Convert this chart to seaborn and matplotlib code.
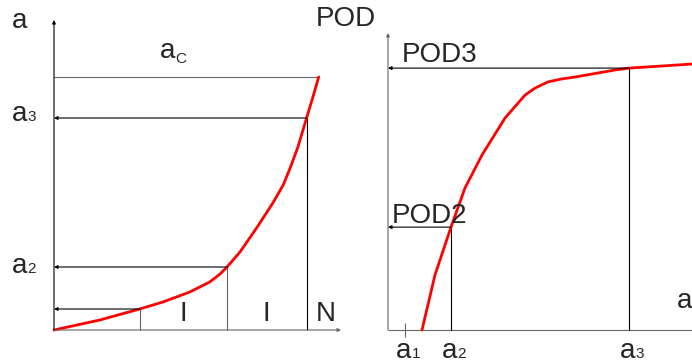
import matplotlib
matplotlib.use("Agg")
import matplotlib.pyplot as plt
import seaborn as sns

# --- dados (esquema: crescimento de trinca e curva POD) ---
# painel esquerdo: a x N
n_curve = [0, 0.53, 0.99, 1.26, 1.57, 1.80, 1.92, 2.00, 2.15, 2.35, 2.53,
           2.65, 2.73, 2.82, 2.92, 2.99, 3.06]
a_curve = [0, 0.10, 0.21, 0.28, 0.38, 0.48, 0.56, 0.63, 0.78, 1.03, 1.27,
           1.45, 1.62, 1.83, 2.12, 2.32, 2.53]
n_marks = [0.99, 2.00, 2.92]          # intervalos de inspecao I, I, N
a_marks = [0.21, 0.63, 2.12]          # a1, a2, a3
a_crit = 2.53
n_crit = 3.06
interval_labels = ["I", "I", "N"]

# painel direito: POD x a
a_pod = [0.34, 0.47, 0.63, 0.77, 0.94, 1.17, 1.37, 1.47, 1.60, 1.74, 1.87,
         2.27, 2.41, 3.04]
pod_curve = [0, 0.204, 0.381, 0.526, 0.648, 0.785, 0.870, 0.896, 0.919,
             0.930, 0.937, 0.963, 0.970, 0.985]
a_ticks = [0.17, 0.63, 2.41]          # a1, a2, a3
pod_marks = {"POD2": 0.381, "POD3": 0.970}

GRAY = "#666666"
W, H = 692, 363

sns.set_style("white")
plt.rcParams["font.family"] = ["Liberation Sans", "DejaVu Sans"]

fig = plt.figure(figsize=(W / 100, H / 100), dpi=100)
ax1 = fig.add_axes([54 / W, 33 / H, 291 / W, 310 / H])
ax2 = fig.add_axes([388 / W, 33 / H, 304 / W, 297 / H])
for ax in (ax1, ax2):
    ax.set_axis_off()
ax1.set_xlim(0, 291 / 86.5)
ax1.set_ylim(0, 3.1)
ax2.set_xlim(0, 3.04)
ax2.set_ylim(0, 1.1)


def arrow(ax, start, end, color="black", lw=0.8):
    ax.annotate("", xy=end, xytext=start,
                arrowprops=dict(arrowstyle="-|>", color=color, lw=lw,
                                mutation_scale=5, shrinkA=0, shrinkB=0),
                annotation_clip=False)


def line(ax, xs, ys, color="black", lw=0.8):
    ax.plot(xs, ys, color=color, lw=lw, clip_on=False, solid_capstyle="butt")


def sub_label(ax, x, y, main, sub, dx, dy, size=20, sub_size=11, sub_dy=0):
    ax.annotate(main, xy=(x, y), xytext=(dx, dy), textcoords="offset pixels",
                fontsize=size, va="baseline", ha="left", annotation_clip=False)
    ax.annotate(sub, xy=(x, y), xytext=(dx + 15.5, dy - sub_dy),
                textcoords="offset pixels", fontsize=sub_size, va="baseline",
                ha="left", annotation_clip=False)


# ---- painel esquerdo ----
arrow(ax1, (0, 0), (0, 3.1))
arrow(ax1, (0, 0), (287 / 86.5, 0), color=GRAY)
line(ax1, [0, n_crit], [a_crit, a_crit], color=GRAY)
for i, (n, a) in enumerate(zip(n_marks, a_marks)):
    arrow(ax1, (n, a), (0, a))
    line(ax1, [n, n], [0, a], color="black" if i == 2 else GRAY)

sns.lineplot(x=n_curve, y=a_curve, color="red", lw=2, sort=False,
             estimator=None, ax=ax1)
for ln in ax1.lines:
    ln.set_clip_on(False)
    ln.set_solid_joinstyle("round")

ax1.annotate("a", xy=(0, 3.1), xytext=(-42, -8), textcoords="offset pixels",
             fontsize=20, va="baseline", ha="left", annotation_clip=False)
sub_label(ax1, 0, a_crit, "a", "C", 106, 19, sub_dy=5)
sub_label(ax1, 0, a_marks[2], "a", "3", -42, -3)
sub_label(ax1, 0, a_marks[1], "a", "2", -42, -6)
bounds = [0] + n_marks + [287 / 86.5]
for k, lab in enumerate(interval_labels):
    xc = (n_marks[k] + bounds[k + 2]) / 2 if k < 2 else (n_marks[2] + 3.36) / 2
    ax1.text(xc, 0.03, lab, fontsize=20, ha="center", va="bottom")

# ---- painel direito ----
arrow(ax2, (0, 0), (0, 1.1), color=GRAY)
line(ax2, [0, 3.04], [0, 0], color=GRAY)
line(ax2, [a_ticks[0], a_ticks[0]], [-0.026, 0.026], color=GRAY)
for a, (lab, p) in zip(a_ticks[1:], pod_marks.items()):
    arrow(ax2, (a, p), (0, p))
    line(ax2, [a, a], [0, p])

sns.lineplot(x=a_pod, y=pod_curve, color="red", lw=2, sort=False,
             estimator=None, ax=ax2)
for ln in ax2.lines:
    ln.set_clip_on(False)
    ln.set_solid_joinstyle("round")

ax2.annotate("POD", xy=(0, 1.1), xytext=(-72, 7), textcoords="offset pixels",
             fontsize=20, va="baseline", ha="left", annotation_clip=False)
ax2.annotate("POD3", xy=(0, pod_marks["POD3"]), xytext=(14, 6),
             textcoords="offset pixels", fontsize=20, va="baseline",
             annotation_clip=False)
ax2.annotate("POD2", xy=(0, pod_marks["POD2"]), xytext=(4, 4),
             textcoords="offset pixels", fontsize=20, va="baseline",
             annotation_clip=False)
ax2.annotate("a", xy=(3.04, 0), xytext=(-15, 22), textcoords="offset pixels",
             fontsize=20, va="baseline", ha="left", annotation_clip=False)
for a, s in zip(a_ticks, ["1", "2", "3"]):
    sub_label(ax2, a, 0, "a", s, -9, -28)

fig.savefig("out.png", dpi=100)
